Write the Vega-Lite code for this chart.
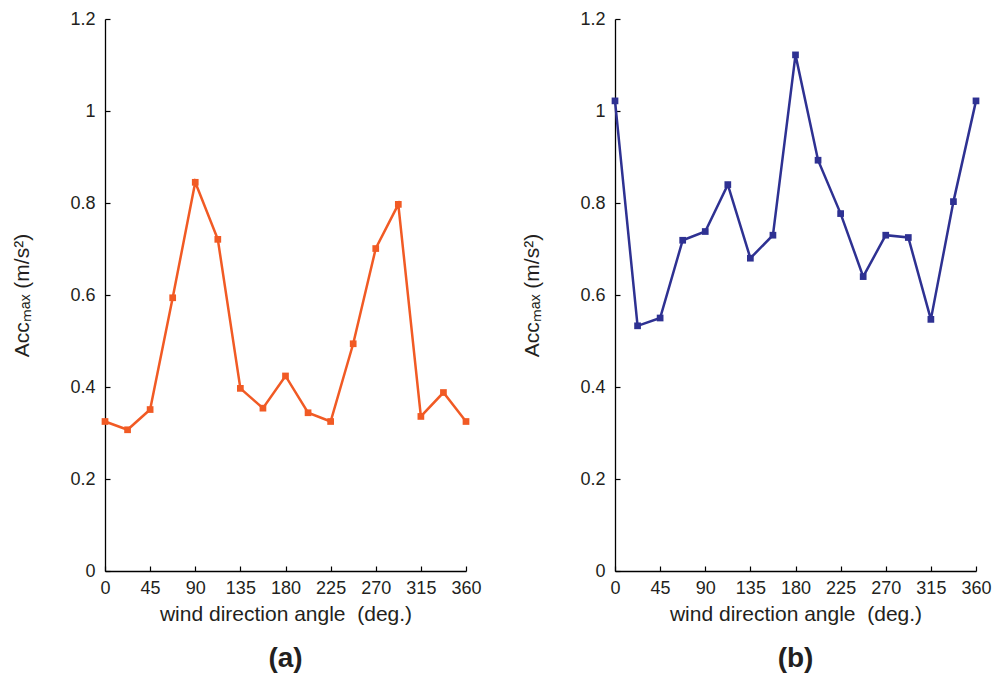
{
  "$schema": "https://vega.github.io/schema/vega-lite/v6.json",
  "background": "white",
  "padding": {"left": 11, "top": 10, "right": 5, "bottom": 2},
  "bounds": "flush",
  "spacing": 149,
  "datasets": {
    "a": [
      {"angle": 0, "acc": 0.325},
      {"angle": 22.5, "acc": 0.307},
      {"angle": 45, "acc": 0.351},
      {"angle": 67.5, "acc": 0.594},
      {"angle": 90, "acc": 0.845},
      {"angle": 112.5, "acc": 0.721},
      {"angle": 135, "acc": 0.397},
      {"angle": 157.5, "acc": 0.354},
      {"angle": 180, "acc": 0.424},
      {"angle": 202.5, "acc": 0.344},
      {"angle": 225, "acc": 0.325},
      {"angle": 247.5, "acc": 0.494},
      {"angle": 270, "acc": 0.701},
      {"angle": 292.5, "acc": 0.797},
      {"angle": 315, "acc": 0.336},
      {"angle": 337.5, "acc": 0.388},
      {"angle": 360, "acc": 0.325}
    ],
    "b": [
      {"angle": 0, "acc": 1.022},
      {"angle": 22.5, "acc": 0.533},
      {"angle": 45, "acc": 0.55},
      {"angle": 67.5, "acc": 0.719},
      {"angle": 90, "acc": 0.738},
      {"angle": 112.5, "acc": 0.84},
      {"angle": 135, "acc": 0.68},
      {"angle": 157.5, "acc": 0.73},
      {"angle": 180, "acc": 1.122},
      {"angle": 202.5, "acc": 0.893},
      {"angle": 225, "acc": 0.777},
      {"angle": 247.5, "acc": 0.64},
      {"angle": 270, "acc": 0.73},
      {"angle": 292.5, "acc": 0.725},
      {"angle": 315, "acc": 0.547},
      {"angle": 337.5, "acc": 0.803},
      {"angle": 360, "acc": 1.022}
    ]
  },
  "config": {
    "font": "Liberation Sans",
    "view": {"stroke": null},
    "axis": {
      "grid": false,
      "domainColor": "#000000",
      "domainWidth": 1.3,
      "tickColor": "#000000",
      "tickWidth": 1.2,
      "tickSize": -5,
      "labelFont": "Liberation Sans",
      "labelFontSize": 18,
      "labelColor": "#231F20",
      "labelFlush": false,
      "labelOverlap": false,
      "labelBound": false,
      "titleFont": "Liberation Sans",
      "titleFontSize": 21,
      "titleFontWeight": "normal",
      "titleColor": "#231F20"
    },
    "axisX": {"labelPadding": 13, "titlePadding": 6},
    "axisY": {"labelPadding": 15, "titlePadding": 37},
    "title": {"font": "Liberation Sans", "fontSize": 28, "fontWeight": "bold", "color": "#231F20", "orient": "bottom", "anchor": "middle", "offset": 21}
  },
  "hconcat": [
    {
      "width": 361,
      "height": 552,
      "title": "(a)",
      "data": {"name": "a"},
      "mark": {"type": "line", "color": "#F15A24", "strokeWidth": 2.5, "point": {"shape": "square", "filled": true, "size": 45, "color": "#F15A24"}},
      "encoding": {
        "x": {"field": "angle", "type": "quantitative", "scale": {"domain": [0, 360], "nice": false},
              "axis": {"values": [0, 45, 90, 135, 180, 225, 270, 315, 360], "title": "wind direction angle\u00a0 (deg.)"}},
        "y": {"field": "acc", "type": "quantitative", "scale": {"domain": [0, 1.2], "nice": false},
              "axis": {"values": [0, 0.2, 0.4, 0.6, 0.8, 1, 1.2], "format": "~g", "title": "Accₘₐₓ (m/s²)"}}
      }
    },
    {
      "width": 361,
      "height": 552,
      "title": "(b)",
      "data": {"name": "b"},
      "mark": {"type": "line", "color": "#2E3192", "strokeWidth": 2.5, "point": {"shape": "square", "filled": true, "size": 45, "color": "#2E3192"}},
      "encoding": {
        "x": {"field": "angle", "type": "quantitative", "scale": {"domain": [0, 360], "nice": false},
              "axis": {"values": [0, 45, 90, 135, 180, 225, 270, 315, 360], "title": "wind direction angle\u00a0 (deg.)"}},
        "y": {"field": "acc", "type": "quantitative", "scale": {"domain": [0, 1.2], "nice": false},
              "axis": {"values": [0, 0.2, 0.4, 0.6, 0.8, 1, 1.2], "format": "~g", "title": "Accₘₐₓ (m/s²)"}}
      }
    }
  ]
}
